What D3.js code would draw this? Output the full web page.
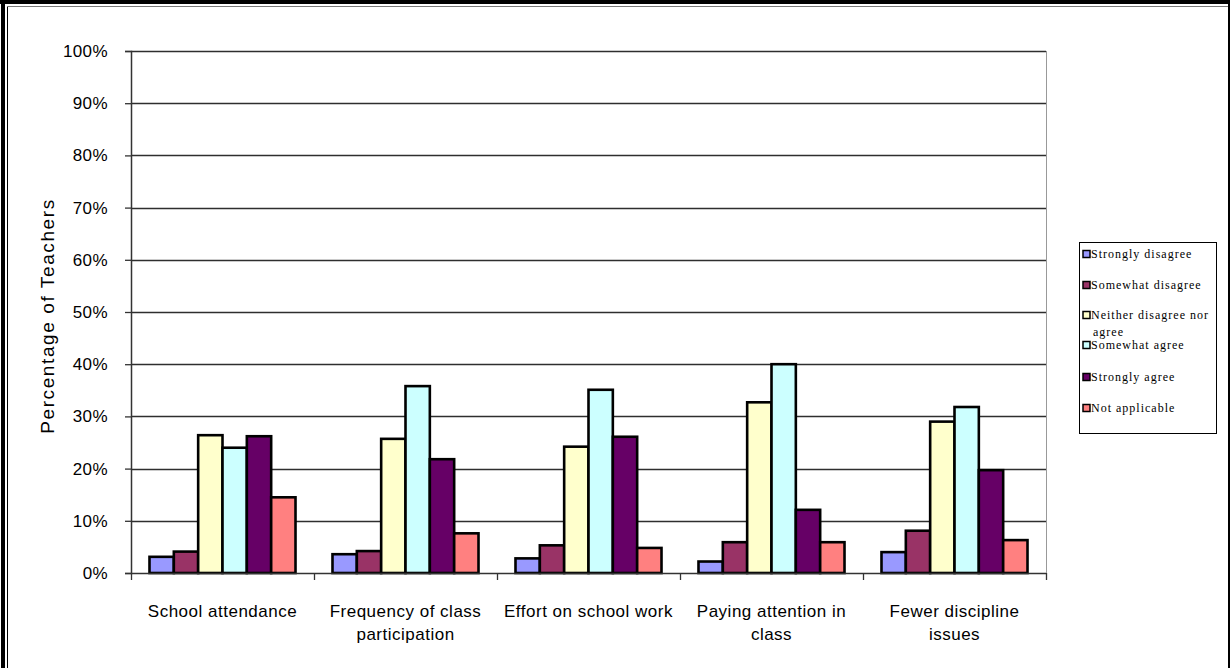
<!DOCTYPE html>
<html>
<head>
<meta charset="utf-8">
<script src="https://cdn.jsdelivr.net/npm/d3@7"></script>
<style>
  html, body { margin: 0; padding: 0; background: #fff; }
  svg { display: block; }
  .tick-label, .cat-label, .axis-title { font-family: "Liberation Sans", Arial, sans-serif; fill: #000; }
  .legend-label { font-family: "Liberation Serif", "Times New Roman", serif; fill: #000; }
</style>
</head>
<body>
<svg id="chart" width="1230" height="668"></svg>
<script>
// Survey categories (x axis) and response series
const categories = [
  ["School attendance"],
  ["Frequency of class", "participation"],
  ["Effort on school work"],
  ["Paying attention in", "class"],
  ["Fewer discipline", "issues"]
];
const seriesNames = [
  ["Strongly disagree"],
  ["Somewhat disagree"],
  ["Neither disagree nor", "agree"],
  ["Somewhat agree"],
  ["Strongly agree"],
  ["Not applicable"]
];
const seriesColors = ["#9999FF", "#993366", "#FFFFCC", "#CCFFFF", "#660066", "#FF8080"];

// Percentage of teachers per response, one array per category
const stronglyDisagree = [3.1, 3.6, 2.8, 2.2, 4.0];
const somewhatDisagree = [4.1, 4.2, 5.3, 5.9, 8.1];
const neither          = [26.4, 25.7, 24.2, 32.7, 29.0];
const somewhatAgree    = [24.0, 35.8, 35.1, 40.0, 31.8];
const stronglyAgree    = [26.2, 21.8, 26.1, 12.1, 19.7];
const notApplicable    = [14.5, 7.6, 4.8, 5.9, 6.3];
const seriesValues = [stronglyDisagree, somewhatDisagree, neither, somewhatAgree, stronglyAgree, notApplicable];

const yTicks = [0, 10, 20, 30, 40, 50, 60, 70, 80, 90, 100];

const svg = d3.select("#chart");

// Outer frame
svg.append("rect").attr("x", 0).attr("y", 0).attr("width", 1230).attr("height", 668).attr("fill", "#fff");
svg.append("rect").attr("x", 1).attr("y", 0).attr("width", 4).attr("height", 668).attr("fill", "#000");
svg.append("rect").attr("x", 0).attr("y", 0).attr("width", 1230).attr("height", 4).attr("fill", "#000");
svg.append("rect").attr("x", 1228).attr("y", 0).attr("width", 2).attr("height", 668).attr("fill", "#000");
svg.append("line").attr("x1", 7.5).attr("x2", 7.5).attr("y1", 6).attr("y2", 668).attr("stroke", "#000").attr("stroke-width", 1);
svg.append("line").attr("x1", 7).attr("x2", 1228).attr("y1", 6.5).attr("y2", 6.5).attr("stroke", "#777").attr("stroke-width", 1);

// Plot area
const plot = { left: 131, right: 1046, top: 51, bottom: 573 };

const x0 = d3.scaleBand()
  .domain(d3.range(categories.length))
  .range([plot.left, plot.right])
  .padding(0);

const x1 = d3.scaleBand()
  .domain(d3.range(seriesNames.length))
  .range([0, x0.bandwidth()])
  .paddingInner(0)
  .paddingOuter(0.76);

const y = d3.scaleLinear().domain([0, 100]).range([plot.bottom, plot.top]);

// Gridlines
svg.append("g")
  .selectAll("line")
  .data(yTicks.filter(d => d > 0))
  .join("line")
  .attr("x1", plot.left)
  .attr("x2", plot.right)
  .attr("y1", d => Math.round(y(d)) + 0.5)
  .attr("y2", d => Math.round(y(d)) + 0.5)
  .attr("stroke", "#2e2e2e")
  .attr("stroke-width", 1.4);

// Right edge of plot area
svg.append("line")
  .attr("x1", plot.right + 0.5).attr("x2", plot.right + 0.5)
  .attr("y1", plot.top).attr("y2", plot.bottom)
  .attr("stroke", "#999").attr("stroke-width", 1);

// Bars
const groups = svg.append("g")
  .selectAll("g")
  .data(categories.map((c, i) => i))
  .join("g")
  .attr("transform", i => `translate(${x0(i)},0)`);

groups.selectAll("rect")
  .data(i => seriesValues.map((vals, s) => ({ s, v: vals[i] })))
  .join("rect")
  .attr("x", d => x1(d.s))
  .attr("width", x1.bandwidth())
  .attr("y", d => y(d.v))
  .attr("height", d => y(0) - y(d.v))
  .attr("fill", d => seriesColors[d.s])
  .attr("stroke", "#000")
  .attr("stroke-width", 2.6);

// Y axis
const yAxis = d3.axisLeft(y)
  .tickValues(yTicks)
  .tickSize(6)
  .tickFormat(d => d + "%");
const yg = svg.append("g")
  .attr("transform", `translate(${plot.left},0)`)
  .call(yAxis);
yg.select(".domain").attr("stroke", "#333").attr("stroke-width", 1.5);
yg.selectAll(".tick line").attr("stroke", "#333").attr("stroke-width", 1.3);
yg.selectAll(".tick text")
  .attr("class", "tick-label")
  .attr("x", -23)
  .attr("font-size", 17)
  .attr("letter-spacing", 0.4)
  .attr("fill", "#000");

// X axis (baseline with category separators)
const boundaries = d3.range(categories.length + 1).map(i => i < categories.length ? x0(i) : plot.right);
svg.append("line")
  .attr("x1", plot.left).attr("x2", plot.right)
  .attr("y1", plot.bottom + 0.5).attr("y2", plot.bottom + 0.5)
  .attr("stroke", "#333").attr("stroke-width", 1.5);
svg.append("g")
  .selectAll("line")
  .data(boundaries)
  .join("line")
  .attr("x1", d => d + 0.5).attr("x2", d => d + 0.5)
  .attr("y1", plot.bottom).attr("y2", plot.bottom + 7)
  .attr("stroke", "#333").attr("stroke-width", 1.3);

// Category labels
const catLabels = svg.append("g")
  .selectAll("text")
  .data(categories)
  .join("text")
  .attr("class", "cat-label")
  .attr("font-size", 17)
  .attr("letter-spacing", 0.5)
  .attr("text-anchor", "middle")
  .attr("transform", (d, i) => `translate(${x0(i) + x0.bandwidth() / 2},617)`);
catLabels.selectAll("tspan")
  .data(d => d)
  .join("tspan")
  .attr("x", 0)
  .attr("y", (d, j) => j * 23)
  .text(d => d);

// Y axis title
svg.append("text")
  .attr("class", "axis-title")
  .attr("font-size", 19)
  .attr("letter-spacing", 1.6)
  .attr("text-anchor", "middle")
  .attr("transform", "translate(54,316) rotate(-90)")
  .text("Percentage of Teachers");

// Legend
const legend = svg.append("g").attr("transform", "translate(1079,242)");
legend.append("rect")
  .attr("x", 0.5).attr("y", 0.5)
  .attr("width", 137).attr("height", 191)
  .attr("fill", "#fff").attr("stroke", "#000").attr("stroke-width", 1);

const entryY = [12, 43, 73, 103, 135, 166];
const items = legend.selectAll("g.item")
  .data(seriesNames)
  .join("g")
  .attr("class", "item")
  .attr("transform", (d, i) => `translate(0,${entryY[i]})`);
items.append("rect")
  .attr("x", 4).attr("y", -3.5)
  .attr("width", 7).attr("height", 7)
  .attr("fill", (d, i) => seriesColors[i])
  .attr("stroke", "#000").attr("stroke-width", 1.5);
const lt = items.append("text")
  .attr("class", "legend-label")
  .attr("font-size", 12)
  .attr("letter-spacing", 1);
lt.selectAll("tspan")
  .data(d => d)
  .join("tspan")
  .attr("x", (d, j) => j === 0 ? 12 : 14)
  .attr("y", (d, j) => 4 + j * 17)
  .text(d => d);
</script>
</body>
</html>
